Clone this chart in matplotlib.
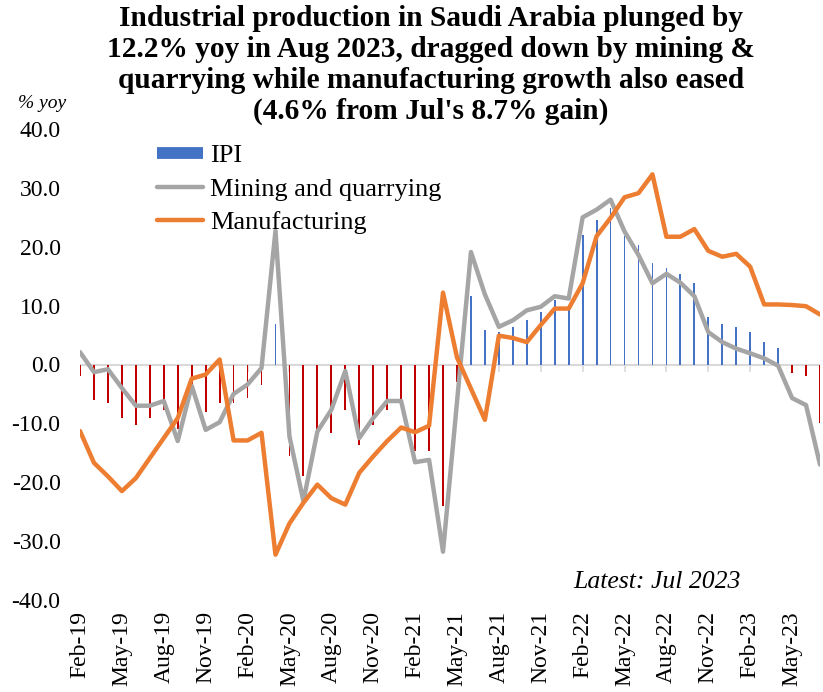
import matplotlib
matplotlib.use("Agg")
import matplotlib.pyplot as plt
from matplotlib.lines import Line2D
import pandas as pd

plt.rcParams['font.family'] = ['Liberation Serif', 'DejaVu Serif']

# Monthly categories Feb-19 .. Jul-23
months = list(pd.date_range('2019-02-01', periods=54, freq='MS').strftime('%b-%y'))

ipi = [-2.0, -6.0, -6.5, -9.1, -10.2, -9.1, -7.7, -11.0, -3.4, -8.0, -6.5, -6.5,
       -5.7, -3.4, 6.8, -15.6, -19.0, -12.5, -11.6, -7.7, -13.6, -10.2, -7.7, -7.0,
       -14.7, -14.7, -24.1, -3.0, 11.7, 5.8, 5.5, 6.4, 7.5, 9.0, 10.9, 9.4,
       22.0, 24.5, 26.5, 21.9, 20.3, 17.3, 16.4, 15.4, 13.8, 8.1, 6.9, 6.4,
       5.5, 3.8, 2.8, -1.5, -1.9, -9.9]

mining = [2.1, -1.3, -0.8, -4.0, -7.0, -7.0, -6.2, -13.0, -3.6, -11.1, -9.8, -5.0,
          -3.4, -0.6, 22.7, -12.2, -23.2, -11.4, -7.7, -1.1, -12.5, -9.1, -6.2, -6.2,
          -16.6, -16.2, -31.8, -6.4, 19.1, 11.9, 6.4, 7.5, 9.2, 9.8, 11.6, 11.2,
          25.0, 26.3, 28.0, 22.6, 18.6, 13.8, 15.4, 13.9, 11.6, 5.5, 3.8, 2.7,
          1.9, 1.05, -0.2, -5.7, -6.9, -17.0]

manufacturing = [-11.3, -16.7, -19.0, -21.5, -19.3, -15.9, -12.5, -9.1, -2.4, -1.7, 0.85, -12.9,
                 -12.9, -11.6, -32.3, -27.0, -23.5, -20.4, -22.7, -23.8, -18.4, -15.6, -13.0, -10.7,
                 -11.5, -10.4, 12.2, 1.2, -4.1, -9.4, 4.9, 4.5, 3.8, 6.7, 9.5, 9.5,
                 13.8, 21.8, 24.9, 28.4, 29.1, 32.3, 21.7, 21.7, 23.0, 19.3, 18.3, 18.8,
                 16.6, 10.2, 10.2, 10.1, 9.9, 8.5]

yticks = [-40, -30, -20, -10, 0, 10, 20, 30, 40]
tick_idx = list(range(0, len(months), 3))
tick_labels = [months[i] for i in tick_idx]

W, H = 823, 692
fig = plt.figure(figsize=(W / 100, H / 100), dpi=100)
ax = fig.add_axes([80 / W, 1 - 600 / H, (820 - 80) / W, (600 - 129) / H])

x = list(range(len(months)))
bar_colors = ['#4472C4' if v >= 0 else '#C00000' for v in ipi]
ax.bar(x, ipi, width=0.13, color=bar_colors, zorder=2, linewidth=0)
ax.axhline(0, color='#D9D9D9', lw=1.5, zorder=1)
ax.vlines(tick_idx, -1.3, 0, color='#D9D9D9', lw=1.2, zorder=1)

ax.plot(x, mining, color='#A5A5A5', lw=3.2, solid_joinstyle='round', solid_capstyle='round', zorder=3)
ax.plot(x, manufacturing, color='#ED7D31', lw=3.2, solid_joinstyle='round', solid_capstyle='round', zorder=4)

ax.set_xlim(0, len(months) - 1)
ax.set_ylim(-40, 40)
ax.set_yticks(yticks)
ax.set_yticklabels([f'{v:.1f}' for v in yticks], fontsize=17)
ax.set_xticks(tick_idx)
ax.set_xticklabels(tick_labels, rotation=90, fontsize=17)
ax.tick_params(axis='y', length=0, pad=14)
ax.tick_params(axis='x', length=0, pad=8)
for s in ax.spines.values():
    s.set_visible(False)

handles = [Line2D([], [], color='#4472C4', lw=8.5, solid_capstyle='butt'),
           Line2D([], [], color='#A5A5A5', lw=3.2, solid_capstyle='round'),
           Line2D([], [], color='#ED7D31', lw=3.2, solid_capstyle='round')]
fig.legend(handles, ['IPI', 'Mining and quarrying', 'Manufacturing'],
           loc='upper left', bbox_to_anchor=(157 / W, 1 - 144 / H),
           frameon=False, fontsize=19, handlelength=1.75, handletextpad=0.25,
           labelspacing=0.38, borderpad=0, borderaxespad=0)

fig.text(431 / W, 1 - 5 / H,
         "Industrial production in Saudi Arabia plunged by\n"
         "12.2% yoy in Aug 2023, dragged down by mining &\n"
         "quarrying while manufacturing growth also eased\n"
         "(4.6% from Jul's 8.7% gain)",
         ha='center', va='top', fontsize=21.2, fontweight='bold', linespacing=1.19)

fig.text(18 / W, 1 - 103 / H, '% yoy', ha='left', va='center', fontsize=14, style='italic')
fig.text(657 / W, 1 - 582 / H, 'Latest: Jul 2023', ha='center', va='center', fontsize=18.5, style='italic')

fig.savefig('out.png', dpi=100)
